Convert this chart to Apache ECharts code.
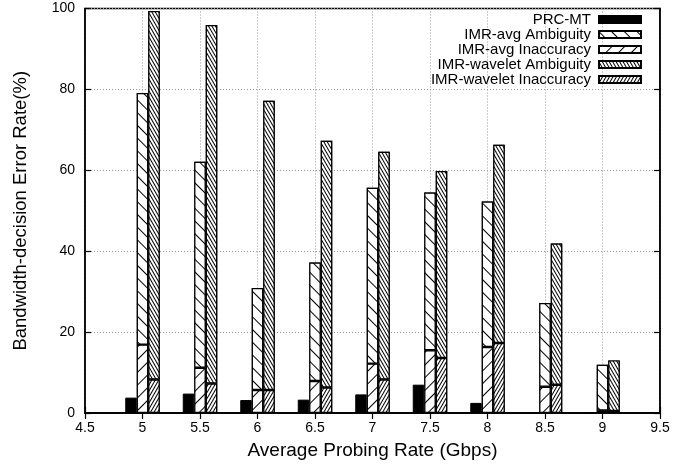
<!DOCTYPE html>
<html><head><meta charset="utf-8">
<script src="https://cdn.jsdelivr.net/npm/echarts@6/dist/echarts.min.js"></script>
<style>html,body{margin:0;padding:0;background:#fff}#c{width:685px;height:465px}</style>
</head><body><div id="c"></div>
<script>
// ---- data ----
const rates = [5, 5.5, 6, 6.5, 7, 7.5, 8, 8.5, 9];
const prcMT = [3.8, 4.8, 3.2, 3.3, 4.6, 7.0, 2.5, 0.2, 0];
const avgAmbiguityTop = [79.1, 62.1, 30.9, 37.2, 55.7, 54.5, 52.3, 27.2, 11.9];
const avgInaccuracy = [16.9, 11.2, 5.7, 7.9, 12.2, 15.5, 16.3, 6.5, 0.6];
const waveletAmbiguityTop = [99.4, 95.9, 77.2, 67.3, 64.6, 59.8, 66.3, 41.9, 13.0];
const waveletInaccuracy = [8.3, 7.3, 5.7, 6.3, 8.3, 13.6, 17.3, 7.0, 0.5];
const xTicks = [4.5, 5, 5.5, 6, 6.5, 7, 7.5, 8, 8.5, 9, 9.5];
const yTicks = [0, 20, 40, 60, 80, 100];
const seriesNames = ['PRC-MT', 'IMR-avg Ambiguity', 'IMR-avg Inaccuracy', 'IMR-wavelet Ambiguity', 'IMR-wavelet Inaccuracy'];

const FONT = 'Liberation Sans, Arial, Helvetica, sans-serif';
// align values to the tick categories (no bars at 4.5 and 9.5)
const onTicks = (vals) => xTicks.map(t => { const i = rates.indexOf(t); return i < 0 ? '-' : vals[i]; });
const segment = (tops, bottoms) => tops.map((t, i) => t - bottoms[i]);

function hatch(angle, gap) {
  return { symbol: 'rect', symbolSize: 1, dashArrayX: [1, 0], dashArrayY: [1, gap],
           rotation: angle, color: '#000', backgroundColor: '#fff' };
}
const BW = 11.5;
const barBase = { type: 'bar', barWidth: BW, barGap: '0%', animation: false };
const whiteBar = (decal) => ({ color: '#fff', borderColor: '#000', borderWidth: 1.2, decal: decal });

const yStep = yTicks[1] - yTicks[0];
const axisLineStyle = { show: true, lineStyle: { color: '#000', width: 1.5 } };
const tickStyle = { show: true, inside: true, length: 6, interval: 0, lineStyle: { color: '#000', width: 1.2 } };
const gridLine = { show: true, interval: 0, lineStyle: { color: '#999', type: [1, 2], width: 1 } };
const xLabels = xTicks.map(String);

const option = {
  backgroundColor: '#fff',
  animation: false,
  textStyle: { fontFamily: FONT },
  grid: { left: 85, right: 25, top: 8.5, bottom: 51.5, show: true, borderColor: '#000', borderWidth: 1.5, containLabel: false },
  legend: {
    orient: 'vertical', right: 43, top: 12, padding: 0, align: 'right',
    itemWidth: 42, itemHeight: 7, itemGap: 0, icon: 'rect', selectedMode: false,
    textStyle: { fontFamily: FONT, fontSize: 15, color: '#000', lineHeight: 14.5, padding: [0, 3, 0, 0] },
    data: seriesNames
  },
  xAxis: [
    { type: 'category', position: 'bottom', data: xLabels, boundaryGap: false,
      axisLine: axisLineStyle, axisTick: tickStyle, splitLine: gridLine,
      axisLabel: { color: '#000', fontSize: 14, fontFamily: FONT, margin: 8, interval: 0 },
      name: 'Average Probing Rate (Gbps)', nameLocation: 'middle', nameGap: 28,
      nameTextStyle: { color: '#000', fontSize: 19, fontFamily: FONT } },
    { type: 'category', position: 'top', data: xLabels, boundaryGap: false,
      axisLine: axisLineStyle, axisTick: tickStyle, splitLine: { show: false }, axisLabel: { show: false } }
  ],
  yAxis: [
    { type: 'value', position: 'left', min: yTicks[0], max: yTicks[yTicks.length - 1], interval: yStep,
      axisLine: axisLineStyle, axisTick: tickStyle, splitLine: gridLine,
      axisLabel: { color: '#000', fontSize: 14, fontFamily: FONT, margin: 10 },
      name: 'Bandwidth-decision Error Rate(%)', nameLocation: 'middle', nameGap: 55, nameRotate: 90,
      nameTextStyle: { color: '#000', fontSize: 18.5, fontFamily: FONT } },
    { type: 'value', position: 'right', min: yTicks[0], max: yTicks[yTicks.length - 1], interval: yStep,
      axisLine: axisLineStyle, axisTick: tickStyle, splitLine: { show: false }, axisLabel: { show: false } }
  ],
  series: [
    Object.assign({}, barBase, { name: 'PRC-MT', data: onTicks(prcMT),
      itemStyle: { color: '#000', borderColor: '#000', borderWidth: 1 } }),
    Object.assign({}, barBase, { name: 'IMR-avg Inaccuracy', stack: 'avg', data: onTicks(avgInaccuracy),
      itemStyle: whiteBar(hatch(-Math.PI / 4, 7.5)) }),
    Object.assign({}, barBase, { name: 'IMR-avg Ambiguity', stack: 'avg', data: onTicks(segment(avgAmbiguityTop, avgInaccuracy)),
      itemStyle: whiteBar(hatch(Math.PI / 4, 7.5)) }),
    Object.assign({}, barBase, { name: 'IMR-wavelet Inaccuracy', stack: 'wav', data: onTicks(waveletInaccuracy),
      itemStyle: whiteBar(hatch(-Math.PI / 3, 2)) }),
    Object.assign({}, barBase, { name: 'IMR-wavelet Ambiguity', stack: 'wav', data: onTicks(segment(waveletAmbiguityTop, waveletInaccuracy)),
      itemStyle: whiteBar(hatch(Math.PI / 3, 2)) })
  ]
};
const chart = echarts.init(document.getElementById('c'), null, { renderer: 'canvas' });
chart.setOption(option);
</script>
</body></html>
